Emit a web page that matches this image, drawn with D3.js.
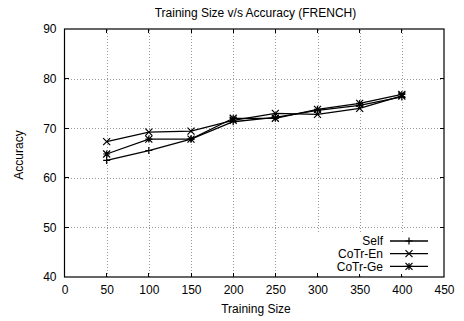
<!DOCTYPE html>
<html>
<head>
<meta charset="utf-8">
<script src="https://cdn.jsdelivr.net/npm/d3@7"></script>
<style>
  body { margin: 0; background: #fff; }
  text { font-family: "Liberation Sans", Arial, sans-serif; fill: #000; }
</style>
</head>
<body>
<div id="chart"></div>
<script>
const sizes = [50, 100, 150, 200, 250, 300, 350, 400];
const selfAcc = [63.5, 65.5, 67.8, 71.3, 72.2, 73.6, 74.6, 76.3];
const cotrEn = [67.3, 69.2, 69.4, 71.6, 73.0, 72.8, 74.0, 76.5];
const cotrGe = [64.8, 67.8, 67.8, 72.0, 72.0, 73.8, 75.0, 76.8];
const xTicks = [0, 50, 100, 150, 200, 250, 300, 350, 400, 450];
const yTicks = [40, 50, 60, 70, 80, 90];

const series = [
  { name: 'Self', values: selfAcc, marker: 'plus' },
  { name: 'CoTr-En', values: cotrEn, marker: 'cross' },
  { name: 'CoTr-Ge', values: cotrGe, marker: 'star' },
];

const width = 464, height = 321;
const margin = { left: 64.5, top: 29, right: 20, bottom: 44 };
const fontSize = '12px';

const svg = d3.select('#chart').append('svg')
  .attr('width', width).attr('height', height);

const x = d3.scaleLinear().domain([0, 450])
  .range([margin.left, width - margin.right]);
const y = d3.scaleLinear().domain([40, 90])
  .range([height - margin.bottom, margin.top]);

// dotted grid
const grid = svg.append('g')
  .attr('stroke', '#999').attr('stroke-width', 1)
  .attr('stroke-dasharray', '1,2').attr('shape-rendering', 'crispEdges');
grid.selectAll('line.v').data(xTicks.slice(1, -1)).enter().append('line')
  .attr('x1', d => Math.round(x(d)) + 0.5).attr('x2', d => Math.round(x(d)) + 0.5)
  .attr('y1', y(40)).attr('y2', y(90));
grid.selectAll('line.h').data(yTicks.slice(1, -1)).enter().append('line')
  .attr('y1', d => Math.round(y(d)) + 0.5).attr('y2', d => Math.round(y(d)) + 0.5)
  .attr('x1', x(0)).attr('x2', x(450));

// axes
const xAxis = d3.axisBottom(x).tickValues(xTicks).tickSize(0).tickPadding(8);
const yAxis = d3.axisLeft(y).tickValues(yTicks).tickSize(0).tickPadding(8);
const gx = svg.append('g').attr('transform', `translate(0,${y(40)})`).call(xAxis);
const gy = svg.append('g').attr('transform', `translate(${x(0)},0)`).call(yAxis);
[gx, gy].forEach(g => {
  g.select('.domain').remove();
  g.selectAll('text').style('font-size', fontSize)
    .style('font-family', '"Liberation Sans", Arial, sans-serif');
});

// inward ticks
const ticks = svg.append('g').attr('stroke', '#000').attr('shape-rendering', 'crispEdges');
xTicks.slice(1, -1).forEach(v => {
  ticks.append('line').attr('x1', x(v)).attr('x2', x(v)).attr('y1', y(40)).attr('y2', y(40) - 4);
  ticks.append('line').attr('x1', x(v)).attr('x2', x(v)).attr('y1', y(90)).attr('y2', y(90) + 4);
});
yTicks.slice(1, -1).forEach(v => {
  ticks.append('line').attr('y1', y(v)).attr('y2', y(v)).attr('x1', x(0)).attr('x2', x(0) + 4);
  ticks.append('line').attr('y1', y(v)).attr('y2', y(v)).attr('x1', x(450)).attr('x2', x(450) - 4);
});

function markerPath(type, s) {
  const h = s / 2;
  const plus = `M${-h},0L${h},0M0,${-h}L0,${h}`;
  const cross = `M${-h},${-h}L${h},${h}M${-h},${h}L${h},${-h}`;
  if (type === 'plus') return plus;
  if (type === 'cross') return cross;
  return plus + cross;
}

// legend background hides grid
const legend = svg.append('g');
legend.append('rect').attr('x', 318).attr('y', 234).attr('width', 120).attr('height', 40).attr('fill', '#fff');

// lines and markers
const line = d3.line().x((d, i) => x(sizes[i])).y(d => y(d));
series.forEach(s => {
  svg.append('path').datum(s.values)
    .attr('fill', 'none').attr('stroke', '#000').attr('stroke-width', 1.3)
    .attr('d', line);
  svg.append('g').selectAll('path').data(s.values).enter().append('path')
    .attr('transform', (d, i) => `translate(${x(sizes[i])},${y(d)})`)
    .attr('d', markerPath(s.marker, 7))
    .attr('stroke', '#000').attr('stroke-width', 1.2).attr('fill', 'none');
});

// legend entries
series.forEach((s, i) => {
  const ly = 241 + i * 12.7;
  legend.append('text').attr('x', 383).attr('y', ly).attr('dy', '0.35em')
    .attr('text-anchor', 'end').style('font-size', fontSize).text(s.name);
  legend.append('line').attr('x1', 390).attr('x2', 428).attr('y1', ly).attr('y2', ly)
    .attr('stroke', '#000').attr('stroke-width', 1.3);
  legend.append('path').attr('transform', `translate(409,${ly})`)
    .attr('d', markerPath(s.marker, 7)).attr('stroke', '#000').attr('stroke-width', 1.2);
});

// border
svg.append('rect').attr('x', x(0)).attr('y', y(90))
  .attr('width', x(450) - x(0)).attr('height', y(40) - y(90))
  .attr('fill', 'none').attr('stroke', '#000').attr('stroke-width', 1.2);

// titles
svg.append('text').attr('x', 255.5).attr('y', 17).attr('text-anchor', 'middle')
  .style('font-size', fontSize).text('Training Size v/s Accuracy (FRENCH)');
svg.append('text').attr('x', 256).attr('y', 313).attr('text-anchor', 'middle')
  .style('font-size', fontSize).text('Training Size');
svg.append('text').attr('transform', 'translate(23,155) rotate(-90)')
  .attr('text-anchor', 'middle').style('font-size', fontSize).text('Accuracy');
</script>
</body>
</html>
